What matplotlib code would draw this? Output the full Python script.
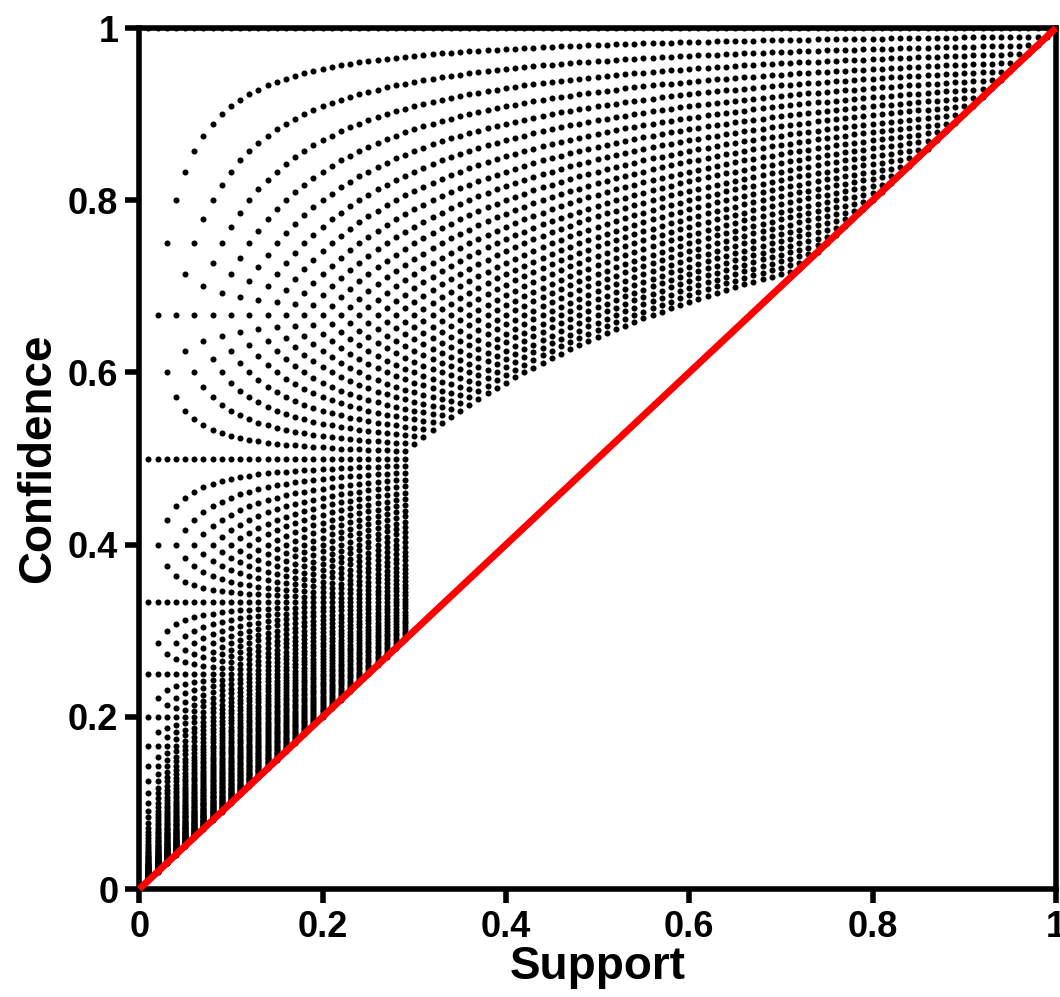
import matplotlib

matplotlib.use("Agg")
import matplotlib.pyplot as plt
from matplotlib.ticker import FormatStrFormatter

# Every (support, confidence) pair reachable with 100 records:
# support = n_xy / N, confidence = n_xy / n_x, with n_xy <= n_x <= N.
# Rules with n_xy above 29 are kept only when n_x - n_xy <= 28 (the gap in the plot).
N_RECORDS = 100
N_XY_COUNTS = list(range(1, N_RECORDS + 1))
FULL_COLUMN_MAX = 29
MAX_MISSES = 28

TICKS = [0, 0.2, 0.4, 0.6, 0.8, 1]
DIAG = [0, 1]

support, confidence = [], []
for n_xy in N_XY_COUNTS:
    for n_x in range(n_xy, N_RECORDS + 1):
        if n_xy > FULL_COLUMN_MAX and n_x - n_xy > MAX_MISSES:
            continue
        support.append(n_xy / N_RECORDS)
        confidence.append(n_xy / n_x)

plt.rcParams["font.family"] = ["Liberation Sans", "DejaVu Sans"]
plt.rcParams["font.weight"] = "bold"

fig = plt.figure(figsize=(10.6, 9.97), dpi=100)
ax = fig.add_axes([0.1314, 0.1083, 0.8648, 0.8636])

ax.scatter(support, confidence, s=19, color="black", linewidths=0, zorder=1)
ax.plot(DIAG, DIAG, color="#ff0000", linewidth=5, zorder=3, clip_on=False,
        solid_capstyle="butt")

ax.set_xlim(0, 1)
ax.set_ylim(0, 1)
ax.set_xticks(TICKS)
ax.set_yticks(TICKS)
ax.xaxis.set_major_formatter(FormatStrFormatter("%g"))
ax.yaxis.set_major_formatter(FormatStrFormatter("%g"))
ax.tick_params(direction="out", length=10, width=4, labelsize=26, pad=5)
for lab in ax.get_xticklabels() + ax.get_yticklabels():
    lab.set_fontweight("bold")
for sp in ax.spines.values():
    sp.set_linewidth(4)

ax.set_xlabel("Support", fontsize=33, fontweight="bold", labelpad=0)
ax.set_ylabel("Confidence", fontsize=33, fontweight="bold", labelpad=6)

fig.savefig("out.png", dpi=100)
